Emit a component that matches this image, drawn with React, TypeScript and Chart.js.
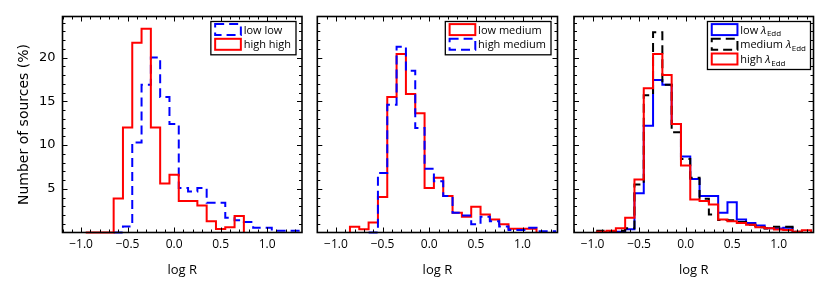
import React, { useEffect, useRef } from 'react';
import { Chart, registerables } from 'chart.js';

Chart.register(...registerables);

// ---------------- data ----------------
const BIN_CENTERS = [-1.2, -1.1, -1.0, -0.9, -0.8, -0.7, -0.6, -0.5, -0.4, -0.3, -0.2, -0.1, 0.0, 0.1, 0.2, 0.3, 0.4, 0.5, 0.6, 0.7, 0.8, 0.9, 1.0, 1.1, 1.2, 1.3];
const BIN_WIDTH = 0.1;

const X_TICKS = [-1.0, -0.5, 0.0, 0.5, 1.0];
const Y_TICKS = [5, 10, 15, 20];

// panel 1
const LOW_LOW = [null, null, null, null, null, null, 0, 0.7, 10.3, 16.9, 20.0, 15.5, 12.4, 5.1, 4.7, 5.1, 3.4, 3.4, 1.7, 1.4, 1.2, 0.55, 0.55, 0.2, 0.2, 0.2];
const HIGH_HIGH = [null, null, null, 0, 0, 0, 3.9, 12.0, 21.7, 23.3, 12.0, 5.6, 6.6, 3.6, 3.6, 3.1, 1.3, 0.4, 0.6, 1.9, null, null, null, null, null, null];
// panel 2
const LOW_MEDIUM = [null, null, null, null, 0.67, 0.36, 1.13, 4.05, 15.5, 20.4, 15.85, 13.65, 5.1, 6.25, 4.16, 2.27, 1.81, 2.95, 2.07, 1.5, 0.93, 0.44, 0.44, 0.44, null, null];
const HIGH_MEDIUM = [null, null, null, null, null, null, 0, 6.8, 14.6, 21.25, 18.5, 11.95, 7.28, 5.87, 4.16, 2.27, 1.95, 0.93, 1.8, 1.3, 0.7, 0.3, 0.3, 0.55, 0.15, 0.15];
// panel 3
const LOW_EDD = [null, null, null, null, null, 0.1, 0.36, 4.5, 12.2, 17.45, 16.9, 12.4, 8.7, 6.13, 4.16, 4.16, 2.27, 3.47, 1.5, 1.1, 0.8, 0.5, 0.45, 0.55, null, null];
const MEDIUM_EDD = [null, null, null, 0.2, 0.1, 0.2, 0.5, 5.5, 15.7, 22.9, 16.9, 11.45, 8.4, 6.25, 3.86, 2.07, 1.43, 1.4, 1.2, 0.9, 0.6, 0.45, 0.65, 0.65, 0.1, null];
const HIGH_EDD = [null, null, null, 0.1, 0.2, 0.5, 1.7, 6.06, 16.5, 20.4, 18.0, 12.4, 7.65, 3.78, 3.59, 3.21, 1.5, 1.3, 1.1, 0.9, 0.6, 0.5, 0.35, 0.3, 0.1, 0.25];

// ---------------- styling / layout ----------------
const X_MIN = -1.2;
const X_MAX = 1.375;
const Y_MIN = 0;
const Y_MAX = 24.7;

const RED = '#ff0000';
const BLUE = '#0000ff';
const BLACK = '#000000';
const DASH = [9, 5];

const W = 830;
const H = 297;
const PLOT_TOP = 16.5;
const PLOT_BOTTOM = 232.5;

type Series = { label: string; values: (number | null)[]; color: string; dash?: number[] };
type LegendItem = { text: string; lambda?: boolean; color: string; dash?: number[] };
type Panel = { left: number; right: number; showY: boolean; series: Series[]; legend: LegendItem[]; legendGap: number };

const PANELS: Panel[] = [
  {
    left: 62.5, right: 302, showY: true, legendGap: 6,
    series: [
      { label: 'high high', values: HIGH_HIGH, color: RED },
      { label: 'low low', values: LOW_LOW, color: BLUE, dash: DASH },
    ],
    legend: [
      { text: 'low low', color: BLUE, dash: DASH },
      { text: 'high high', color: RED },
    ],
  },
  {
    left: 317.3, right: 557.5, showY: false, legendGap: 6.5,
    series: [
      { label: 'high medium', values: HIGH_MEDIUM, color: BLUE, dash: DASH },
      { label: 'low medium', values: LOW_MEDIUM, color: RED },
    ],
    legend: [
      { text: 'low medium', color: RED },
      { text: 'high medium', color: BLUE, dash: DASH },
    ],
  },
  {
    left: 574, right: 813.5, showY: false, legendGap: 3,
    series: [
      { label: 'high', values: HIGH_EDD, color: RED },
      { label: 'medium', values: MEDIUM_EDD, color: BLACK, dash: DASH },
      { label: 'low', values: LOW_EDD, color: BLUE },
    ],
    legend: [
      { text: 'low', lambda: true, color: BLUE },
      { text: 'medium', lambda: true, color: BLACK, dash: DASH },
      { text: 'high', lambda: true, color: RED },
    ],
  },
];

// points at bin edges; with 'before' stepping each bin value spans [left edge, right edge]
function stepPoints(values: (number | null)[]) {
  const idx: number[] = [];
  values.forEach((v, i) => { if (v !== null && v !== undefined) idx.push(i); });
  const first = idx[0];
  const last = idx[idx.length - 1];
  const half = BIN_WIDTH / 2;
  const pts: { x: number; y: number }[] = [{ x: BIN_CENTERS[first] - half, y: 0 }];
  for (let i = first; i <= last; i++) {
    pts.push({ x: BIN_CENTERS[i] - half, y: (values[i] as number) ?? 0 });
    pts.push({ x: BIN_CENTERS[i] + half, y: (values[i] as number) ?? 0 });
  }
  pts.push({ x: BIN_CENTERS[last] + half, y: 0 });
  return pts;
}

const LEG_FONT = '11px "Open Sans"';
const LEG_ITAL = 'italic 11px "Open Sans"';
const LEG_SUB = '8px "Open Sans"';

function labelWidth(ctx: CanvasRenderingContext2D, it: LegendItem) {
  ctx.font = LEG_FONT;
  let w = ctx.measureText(it.text + (it.lambda ? ' ' : '')).width;
  if (it.lambda) {
    ctx.font = LEG_ITAL;
    w += ctx.measureText('\u03bb').width;
    ctx.font = LEG_SUB;
    w += ctx.measureText('Edd').width;
  }
  return w;
}

function drawLabel(ctx: CanvasRenderingContext2D, it: LegendItem, x: number, cy: number) {
  ctx.fillStyle = '#000';
  ctx.textBaseline = 'alphabetic';
  ctx.textAlign = 'left';
  const base = cy + 4;
  ctx.font = LEG_FONT;
  const t = it.text + (it.lambda ? ' ' : '');
  ctx.fillText(t, x, base);
  let cx = x + ctx.measureText(t).width;
  if (it.lambda) {
    ctx.font = LEG_ITAL;
    ctx.fillText('\u03bb', cx, base);
    cx += ctx.measureText('\u03bb').width + 0.5;
    ctx.font = LEG_SUB;
    ctx.fillText('Edd', cx, base + 2.5);
  }
}

function makeFramePlugin(panel: Panel) {
  return {
    id: 'frameAndLegend',
    afterDatasetsDraw(chart: any) {
      const { ctx, chartArea: a, scales } = chart;
      const x = scales.x;
      const y = scales.y;
      ctx.save();
      ctx.strokeStyle = '#000';
      ctx.lineWidth = 1;
      ctx.beginPath();
      for (let k = Math.ceil(X_MIN * 10 - 1e-6); k <= Math.floor(X_MAX * 10 + 1e-6); k++) {
        const v = k / 10;
        const major = X_TICKS.some((t) => Math.abs(t - v) < 1e-6);
        const len = major ? 5 : 3;
        const px = Math.round(x.getPixelForValue(v)) + 0.5;
        ctx.moveTo(px, a.bottom); ctx.lineTo(px, a.bottom - len);
        ctx.moveTo(px, a.top); ctx.lineTo(px, a.top + len);
      }
      for (let v = Math.ceil(Y_MIN) + 1; v < Y_MAX; v++) {
        const major = Y_TICKS.includes(v);
        const len = major ? 5 : 3;
        const py = Math.round(y.getPixelForValue(v)) + 0.5;
        ctx.moveTo(a.left, py); ctx.lineTo(a.left + len, py);
        ctx.moveTo(a.right, py); ctx.lineTo(a.right - len, py);
      }
      ctx.stroke();
      ctx.lineWidth = 1.6;
      ctx.strokeRect(a.left, a.top, a.right - a.left, a.bottom - a.top);

      // legend
      const items = panel.legend;
      const textW = Math.max(...items.map((it) => labelWidth(ctx, it)));
      const padL = 3.3, sampleW = 27.7, gap = 1.8, padR = 5;
      const boxW = padL + sampleW + gap + textW + padR;
      const rowH = 14.7;
      const boxH = 8.1 + (items.length - 1) * rowH + 10.5;
      const right = a.right - panel.legendGap;
      const top = a.top + 5;
      const left = right - boxW;
      ctx.fillStyle = '#fff';
      ctx.fillRect(left, top, boxW, boxH);
      ctx.lineWidth = 1.3;
      ctx.strokeStyle = '#000';
      ctx.setLineDash([]);
      ctx.strokeRect(left, top, boxW, boxH);
      items.forEach((it, i) => {
        const cy = top + 8.1 + i * rowH;
        ctx.save();
        ctx.strokeStyle = it.color;
        ctx.lineWidth = 2;
        ctx.lineJoin = 'miter';
        ctx.setLineDash(it.dash || []);
        ctx.strokeRect(left + padL + 1, cy - 5.5, sampleW - 2, 11);
        ctx.restore();
        drawLabel(ctx, it, left + padL + sampleW + gap, cy);
      });
      ctx.restore();
    },
  };
}

function fmtX(v: number) {
  const s = Math.abs(v) < 1e-9 ? '0.0' : v.toFixed(1);
  return s.replace('-', '\u2212');
}

function PanelChart({ panel }: { panel: Panel }) {
  const ref = useRef<HTMLCanvasElement | null>(null);
  useEffect(() => {
    if (!ref.current) return;
    const yScale: any = {
      type: 'linear',
      min: Y_MIN,
      max: Y_MAX,
      display: panel.showY,
      afterBuildTicks: (s: any) => { s.ticks = Y_TICKS.map((v) => ({ value: v })); },
      ticks: {
        callback: (v: any) => String(v),
        font: { family: '"DejaVu Sans"', size: 13 },
        color: '#000',
        padding: 7,
        autoSkip: false,
      },
      grid: { display: false, drawTicks: false },
      border: { display: false },
      title: {
        display: true,
        text: 'Number of sources (%)',
        color: '#000',
        font: { family: '"DejaVu Sans"', size: 14 },
        padding: { top: 16, bottom: 0 },
      },
    };
    if (panel.showY) yScale.afterFit = (s: any) => { s.width = panel.left; };

    const chart = new Chart(ref.current, {
      type: 'line',
      data: {
        datasets: panel.series.map((s) => ({
          label: s.label,
          data: stepPoints(s.values),
          borderColor: s.color,
          backgroundColor: s.color,
          borderWidth: 2,
          borderDash: s.dash || [],
          borderJoinStyle: 'miter',
          borderCapStyle: 'butt',
          stepped: 'before',
          pointRadius: 0,
          fill: false,
          clip: false,
        })) as any,
      },
      options: {
        animation: false,
        responsive: false,
        events: [],
        layout: {
          padding: {
            left: panel.showY ? 0 : panel.left,
            right: W - panel.right,
            top: PLOT_TOP,
            bottom: 0,
          },
        },
        plugins: { legend: { display: false }, tooltip: { enabled: false } },
        scales: {
          x: {
            type: 'linear',
            min: X_MIN,
            max: X_MAX,
            afterBuildTicks: (s: any) => { s.ticks = X_TICKS.map((v) => ({ value: v })); },
            afterFit: (s: any) => { s.height = H - PLOT_BOTTOM; },
            ticks: {
              callback: (v: any) => fmtX(Number(v)),
              font: { family: '"Open Sans"', size: 12 },
              color: '#000',
              padding: 5,
              maxRotation: 0,
              autoSkip: false,
            },
            grid: { display: false, drawTicks: false },
            border: { display: false },
            title: {
              display: true,
              text: 'log R',
              color: '#000',
              font: { family: '"Open Sans"', size: 13 },
              padding: { top: 0, bottom: 19 },
            },
          } as any,
          y: yScale,
        },
      },
      plugins: [makeFramePlugin(panel)],
    } as any);
    return () => chart.destroy();
  }, [panel]);
  return (
    <canvas
      ref={ref}
      width={W}
      height={H}
      style={{ position: 'absolute', left: 0, top: 0, width: W, height: H }}
    />
  );
}

export default function App() {
  return (
    <div style={{ position: 'absolute', left: 0, top: 0, width: W, height: H, background: '#fff', overflow: 'hidden' }}>
      {PANELS.map((p, i) => (
        <PanelChart key={i} panel={p} />
      ))}
    </div>
  );
}
